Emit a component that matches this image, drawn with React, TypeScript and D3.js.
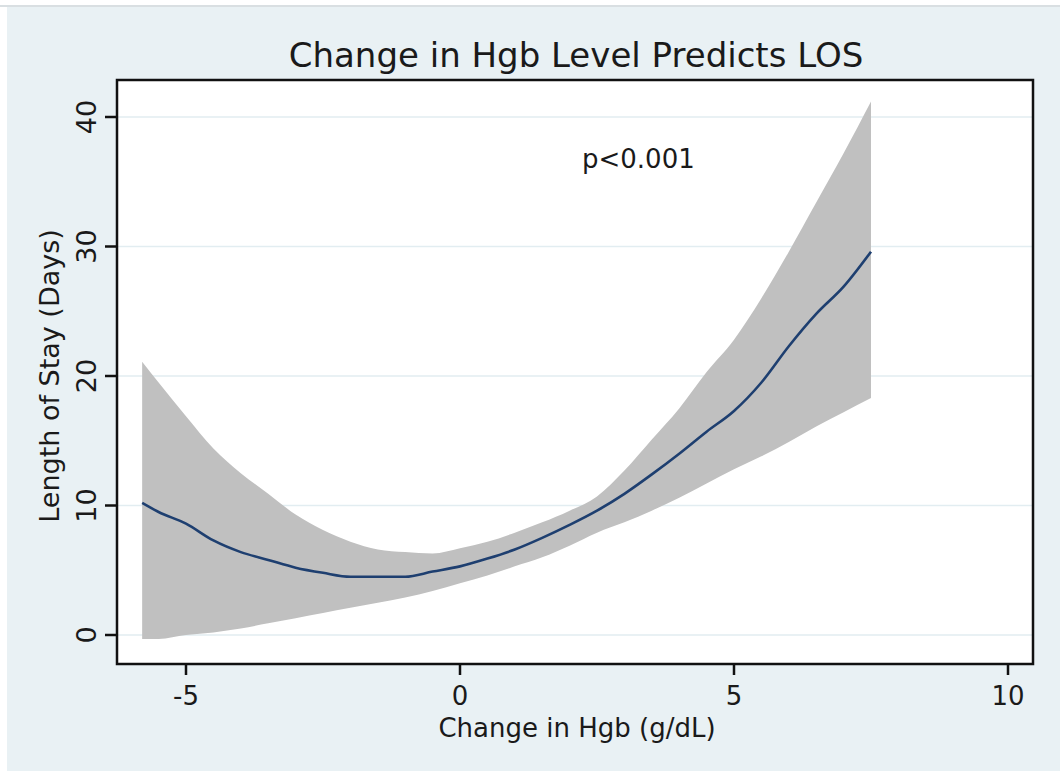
import React from 'react';
import * as d3 from 'd3';

// Change in Hgb (g/dL) sample points and fitted LOS with confidence band
const hgbChange = [-5.8, -5.5, -5.0, -4.5, -4.0, -3.5, -3.0, -2.5, -2.0, -1.5, -1.0, -0.5, 0, 0.5, 1.0, 1.5, 2.0, 2.5, 3.0, 3.5, 4.0, 4.5, 5.0, 5.5, 6.0, 6.5, 7.0, 7.5];
const fitted = [10.2, 9.5, 8.6, 7.3, 6.4, 5.8, 5.2, 4.8, 4.5, 4.5, 4.5, 4.9, 5.3, 5.9, 6.6, 7.5, 8.5, 9.6, 10.9, 12.4, 14.0, 15.7, 17.3, 19.5, 22.3, 24.8, 26.9, 29.6];
const lower = [-0.3, -0.3, 0.0, 0.2, 0.5, 0.9, 1.3, 1.7, 2.1, 2.5, 2.9, 3.4, 4.0, 4.6, 5.3, 6.0, 6.9, 7.9, 8.7, 9.6, 10.6, 11.7, 12.8, 13.8, 14.9, 16.1, 17.2, 18.3];
const upper = [21.1, 19.5, 16.9, 14.4, 12.5, 10.9, 9.3, 8.1, 7.2, 6.6, 6.4, 6.3, 6.7, 7.2, 7.9, 8.7, 9.6, 10.7, 12.7, 15.1, 17.5, 20.3, 22.8, 26.0, 29.6, 33.4, 37.2, 41.2];

const xTicks = [-5, 0, 5, 10];
const yTicks = [0, 10, 20, 30, 40];

const W = 1060;
const H = 771;
const plot = { left: 117, right: 1033, top: 80, bottom: 664 };
const font = '"DejaVu Sans", sans-serif';

const App: React.FC = () => {
    const x = d3.scaleLinear().domain([-5, 10]).range([186, 1008]);
    const y = d3.scaleLinear().domain([0, 40]).range([635, 117]);

    const rows = hgbChange.map((h, i) => ({ h, m: fitted[i], lo: lower[i], hi: upper[i] }));

    const band = d3.area<any>()
        .x(d => x(d.h))
        .y0(d => y(d.lo))
        .y1(d => y(d.hi))
        .curve(d3.curveMonotoneX);

    const line = d3.line<any>()
        .x(d => x(d.h))
        .y(d => y(d.m))
        .curve(d3.curveMonotoneX);

    return (
        <svg width={W} height={H} style={{ position: 'absolute', left: 0, top: 0 }}>
            <rect x={0} y={0} width={W} height={H} fill="#ffffff" />
            {/* outer panel */}
            <rect x={7} y={7} width={W - 7} height={H - 7} fill="#e9f1f4" />
            <line x1={0} x2={W} y1={6} y2={6} stroke="#cdd5d9" strokeWidth={1.5} />

            <text x={576} y={67} textAnchor="middle" fontFamily={font} fontSize={34} fill="#1a1a1a">
                Change in Hgb Level Predicts LOS
            </text>

            {/* plot region */}
            <rect x={plot.left} y={plot.top} width={plot.right - plot.left} height={plot.bottom - plot.top} fill="#ffffff" />
            {yTicks.map(t => (
                <line key={`g${t}`} x1={plot.left} x2={plot.right} y1={y(t)} y2={y(t)} stroke="#e2edf1" strokeWidth={1.5} />
            ))}

            <path d={band(rows) || ''} fill="#c0c0c0" />
            <path d={line(rows) || ''} fill="none" stroke="#1e3f70" strokeWidth={2.6} strokeLinejoin="round" />

            <text x={582} y={168} fontFamily={font} fontSize={26} fill="#1a1a1a">p&lt;0.001</text>

            <rect x={plot.left} y={plot.top} width={plot.right - plot.left} height={plot.bottom - plot.top} fill="none" stroke="#111" strokeWidth={2.5} />

            {/* y axis */}
            {yTicks.map(t => (
                <g key={`y${t}`}>
                    <line x1={plot.left - 12} x2={plot.left} y1={y(t)} y2={y(t)} stroke="#111" strokeWidth={2.5} />
                    <text transform={`translate(96,${y(t)}) rotate(-90)`} textAnchor="middle" fontFamily={font} fontSize={27} fill="#1a1a1a">
                        {t}
                    </text>
                </g>
            ))}
            <text transform={`translate(59,376) rotate(-90)`} textAnchor="middle" fontFamily={font} fontSize={27} fill="#1a1a1a">
                Length of Stay (Days)
            </text>

            {/* x axis */}
            {xTicks.map(t => (
                <g key={`x${t}`}>
                    <line x1={x(t)} x2={x(t)} y1={plot.bottom} y2={plot.bottom + 11} stroke="#111" strokeWidth={2.5} />
                    <text x={x(t)} y={705} textAnchor="middle" fontFamily={font} fontSize={26} fill="#1a1a1a">
                        {t}
                    </text>
                </g>
            ))}
            <text x={577} y={737} textAnchor="middle" fontFamily={font} fontSize={26} fill="#1a1a1a">
                Change in Hgb (g/dL)
            </text>
        </svg>
    );
};

export default App;
